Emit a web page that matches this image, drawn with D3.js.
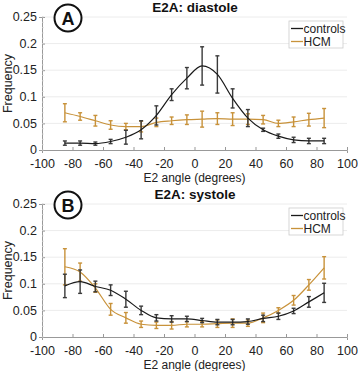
<!DOCTYPE html>
<html><head><meta charset="utf-8">
<script src="https://cdn.jsdelivr.net/npm/d3@7"></script>
<style>body{margin:0;background:#fff}svg{display:block;font-family:"Liberation Sans",Arial,sans-serif}</style>
</head><body><svg id="c" width="358" height="371"></svg>
<script>
const angles = [-85,-75,-65,-55,-45,-35,-25,-15,-5,5,15,25,35,45,55,65,75,85];
const xTicks = [-100,-80,-60,-40,-20,0,20,40,60,80,100];
const yTicks = [0,0.05,0.1,0.15,0.2,0.25];
const yTickLabels = ["0","0.05","0.1","0.15","0.2","0.25"];
const seriesNames = ["controls","HCM"];

const diaControls = [0.013,0.013,0.012,0.016,0.024,0.038,0.065,0.104,0.135,0.158,0.142,0.097,0.060,0.038,0.026,0.019,0.017,0.017];
const diaControlsErr = [0.004,0.004,0.003,0.004,0.013,0.017,0.018,0.011,0.02,0.036,0.035,0.018,0.016,0.003,0.004,0.005,0.005,0.005];
const diaHCM = [0.070,0.063,0.055,0.047,0.044,0.044,0.052,0.055,0.057,0.058,0.059,0.058,0.058,0.057,0.050,0.053,0.057,0.060];
const diaHCMErr = [0.017,0.007,0.01,0.008,0.006,0.01,0.008,0.007,0.009,0.015,0.011,0.012,0.01,0.008,0.006,0.009,0.012,0.018];

const sysControls = [0.096,0.104,0.095,0.088,0.071,0.050,0.036,0.034,0.034,0.031,0.028,0.028,0.029,0.035,0.039,0.049,0.066,0.083];
const sysControlsErr = [0.022,0.022,0.01,0.01,0.015,0.008,0.006,0.006,0.005,0.004,0.005,0.005,0.005,0.006,0.006,0.005,0.01,0.018];
const sysHCM = [0.132,0.122,0.092,0.052,0.036,0.024,0.022,0.022,0.024,0.024,0.025,0.026,0.026,0.036,0.050,0.069,0.098,0.130];
const sysHCMErr = [0.034,0.017,0.008,0.011,0.01,0.006,0.006,0.007,0.005,0.005,0.007,0.008,0.006,0.009,0.005,0.009,0.01,0.021];

const colors = {line:["#1a1a1a","#c8923a"], err:["#3a3a3a","#c8923a"]};
const svg = d3.select("#c");

function panel(top, title, letter, dataC, errC, dataH, errH) {
  const left = 42, right = 347, y0 = top + 133, y1 = top;
  const x = d3.scaleLinear().domain([-100,100]).range([left,right]);
  const y = d3.scaleLinear().domain([0,0.25]).range([y0,y1]);
  const g = svg.append("g");
  g.selectAll(".grid").data(yTicks.slice(1)).join("line")
    .attr("x1",left).attr("x2",right).attr("y1",d=>y(d)).attr("y2",d=>y(d))
    .attr("stroke","#ececec").attr("stroke-width",1);
  const ax = g.append("g").attr("transform",`translate(0,${y0})`)
    .call(d3.axisBottom(x).tickValues(xTicks).tickSize(3).tickFormat(d=>d));
  ax.select(".domain").attr("stroke","#999");
  ax.selectAll(".tick line").attr("stroke","#999").attr("transform","translate(0,-3)");
  ax.selectAll("text").attr("font-size",12.5).attr("fill","#222").attr("y",8).attr("dy","0.8em").attr("font-family","Liberation Sans, Arial, sans-serif");
  const ay = g.append("g").attr("transform",`translate(${left},0)`)
    .call(d3.axisLeft(y).tickValues(yTicks).tickSize(3).tickFormat((d,i)=>yTickLabels[i]));
  ay.select(".domain").attr("stroke","#999");
  ay.selectAll(".tick line").attr("stroke","#999").attr("transform","translate(3,0)");
  ay.selectAll("text").attr("font-size",12.5).attr("fill","#222").attr("x",-5).attr("dy","0.3em").attr("font-family","Liberation Sans, Arial, sans-serif");
  g.selectAll(".minor").data(d3.range(0,0.2501,0.01)).join("line")
    .attr("x1",left).attr("x2",left+1.5).attr("y1",d=>y(d)).attr("y2",d=>y(d)).attr("stroke","#ccc");
  g.append("text").attr("x",(left+right)/2).attr("y",top+165).attr("text-anchor","middle")
    .attr("font-size",12).attr("fill","#222").text("E2 angle (degrees)");
  g.append("text").attr("transform",`translate(12,${(y0+y1)/2}) rotate(-90)`).attr("text-anchor","middle")
    .attr("font-size",12.5).attr("fill","#222").text("Frequency");
  g.append("text").attr("x",195).attr("y",top-5).attr("text-anchor","middle")
    .attr("font-size",13.5).attr("font-weight","bold").attr("fill","#111").text(title);
  g.append("circle").attr("cx",68).attr("cy",top+1).attr("r",13.5).attr("fill","#fff").attr("stroke","#111").attr("stroke-width",2);
  g.append("text").attr("x",68).attr("y",top+7.5).attr("text-anchor","middle").attr("font-size",18).attr("font-weight","bold").attr("fill","#111").text(letter);

  const series = [[dataC,errC],[dataH,errH]];
  const order = [1,0];
  const line = d3.line().x((d,i)=>x(angles[i])).y(d=>y(d)).curve(d3.curveMonotoneX);
  order.forEach(s=>{
    const [vals, errs] = series[s];
    const eg = g.append("g").attr("stroke",colors.err[s]).attr("stroke-width",1.4);
    vals.forEach((v,i)=>{
      const xx = x(angles[i]);
      eg.append("line").attr("x1",xx).attr("x2",xx).attr("y1",y(v-errs[i])).attr("y2",y(v+errs[i]));
      eg.append("line").attr("x1",xx-2).attr("x2",xx+2).attr("y1",y(v-errs[i])).attr("y2",y(v-errs[i]));
      eg.append("line").attr("x1",xx-2).attr("x2",xx+2).attr("y1",y(v+errs[i])).attr("y2",y(v+errs[i]));
    });
    g.append("path").datum(vals).attr("d",line).attr("fill","none").attr("stroke",colors.line[s]).attr("stroke-width",1.2);
  });
  const lg = g.append("g").attr("transform",`translate(289,${top+4})`);
  lg.append("rect").attr("width",54).attr("height",27).attr("fill","#fff").attr("stroke","#ccc").attr("stroke-width",0.8);
  seriesNames.forEach((n,i)=>{
    lg.append("line").attr("x1",2).attr("x2",14).attr("y1",7.5+i*13).attr("y2",7.5+i*13).attr("stroke",colors.line[i]).attr("stroke-width",1.3);
    lg.append("text").attr("x",14.5).attr("y",12+i*13).attr("font-size",12).attr("fill","#222").text(n);
  });
}
panel(17,"E2A: diastole","A",diaControls,diaControlsErr,diaHCM,diaHCMErr);
panel(204,"E2A: systole","B",sysControls,sysControlsErr,sysHCM,sysHCMErr);
</script></body></html>
